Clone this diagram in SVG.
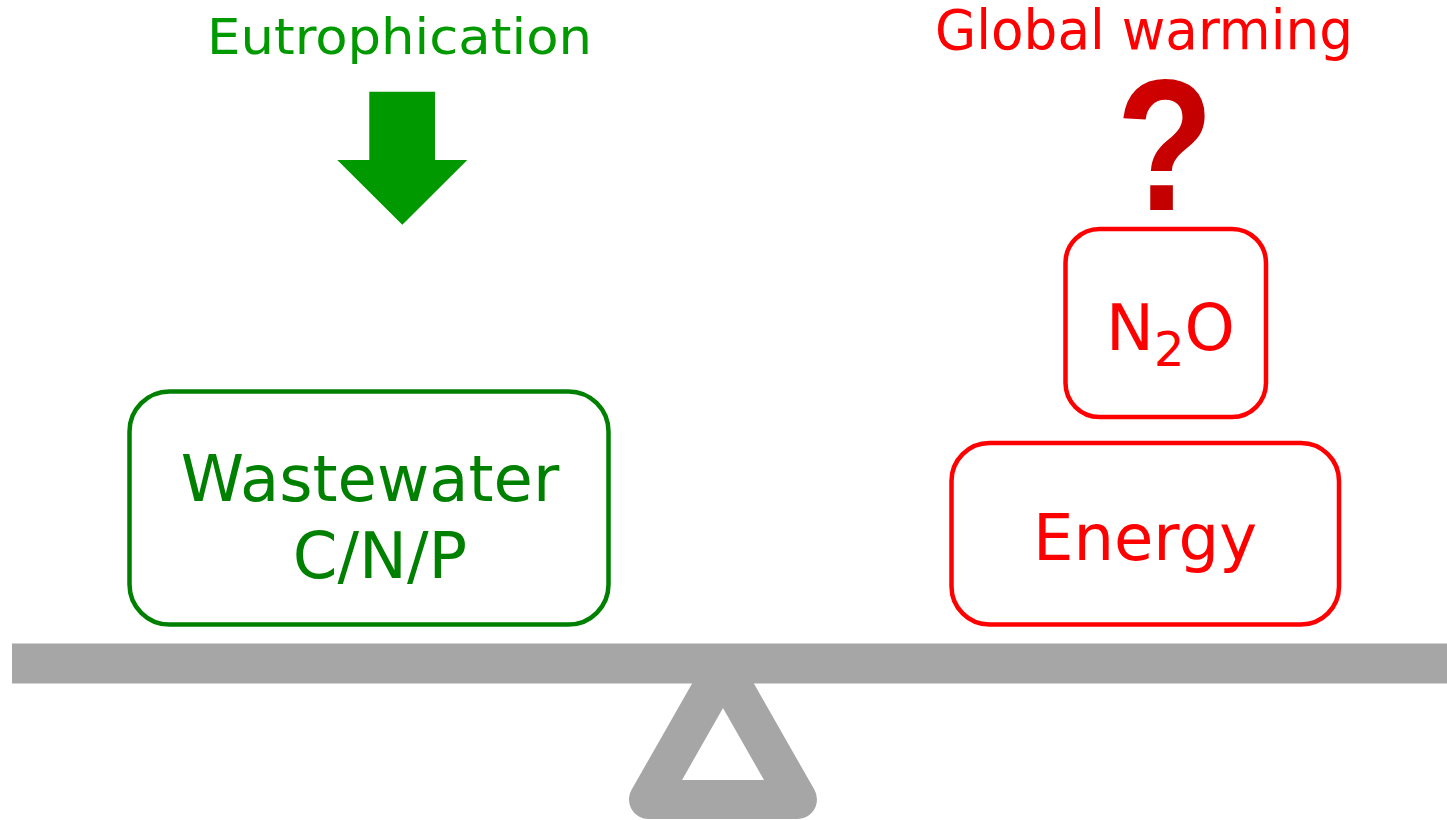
<svg xmlns="http://www.w3.org/2000/svg" width="1447" height="820" viewBox="0 0 1447 820">
  <defs>
    <style>
      .lbl { font-family: "DejaVu Sans", Verdana, sans-serif; }
      .gbox { fill: #ffffff; stroke: #008000; stroke-width: 4.5; }
      .rbox { fill: #ffffff; stroke: #ff0000; stroke-width: 4.5; }
      .gtxt { fill: #008000; }
      .rtxt { fill: #ff0000; }
      .gray { fill: #a6a6a6; }
    </style>
    <linearGradient id="qgrad" x1="0" y1="0" x2="1" y2="1">
      <stop offset="0" stop-color="#d80000"/>
      <stop offset="1" stop-color="#b80000"/>
    </linearGradient>
  </defs>
  <rect width="1447" height="820" fill="#ffffff"/>

  <g id="seesaw">
    <path d="M723,668.6 L648.5,799.5 L797.5,799.5 Z" fill="none" stroke="#a6a6a6" stroke-width="39" stroke-linejoin="round"/>
    <rect class="gray" x="12" y="643.5" width="1435" height="40"/>
  </g>

  <g id="eutrophication">
    <text class="lbl" x="207" y="53.5" font-size="50" fill="#009900" textLength="385" lengthAdjust="spacingAndGlyphs">Eutrophication</text>
    <path d="M369.3,91.7 L435,91.7 L435,160 L467.3,160 L402.3,224.7 L337.3,160 L369.3,160 Z" fill="#009900"/>
  </g>

  <g id="global-warming">
    <text class="lbl rtxt" x="935" y="48.5" font-size="55" textLength="418" lengthAdjust="spacingAndGlyphs">Global warming</text>
    <text transform="translate(1165,210) scale(0.88,1.03)" x="0" y="0" font-family="'Liberation Sans', Arial, sans-serif" font-weight="bold" font-size="182" text-anchor="middle" fill="url(#qgrad)">?</text>
  </g>

  <g id="wastewater">
    <rect class="gbox" x="129.5" y="391.5" width="479" height="233" rx="40" ry="40"/>
    <text class="lbl gtxt" x="370" y="500.5" font-size="64" text-anchor="middle">Wastewater</text>
    <text class="lbl gtxt" x="380" y="577.5" font-size="64" text-anchor="middle">C/N/P</text>
  </g>

  <g id="n2o">
    <rect class="rbox" x="1065.5" y="229" width="200.5" height="188" rx="34" ry="34"/>
    <text class="lbl rtxt" x="1106" y="350" font-size="64">N<tspan font-size="48" dy="16">2</tspan><tspan dy="-16">O</tspan></text>
  </g>

  <g id="energy">
    <rect class="rbox" x="951.5" y="443" width="387.5" height="181.5" rx="38" ry="38"/>
    <text class="lbl rtxt" x="1145" y="559.5" font-size="64" text-anchor="middle">Energy</text>
  </g>

  <g id="connectors"/>
</svg>
